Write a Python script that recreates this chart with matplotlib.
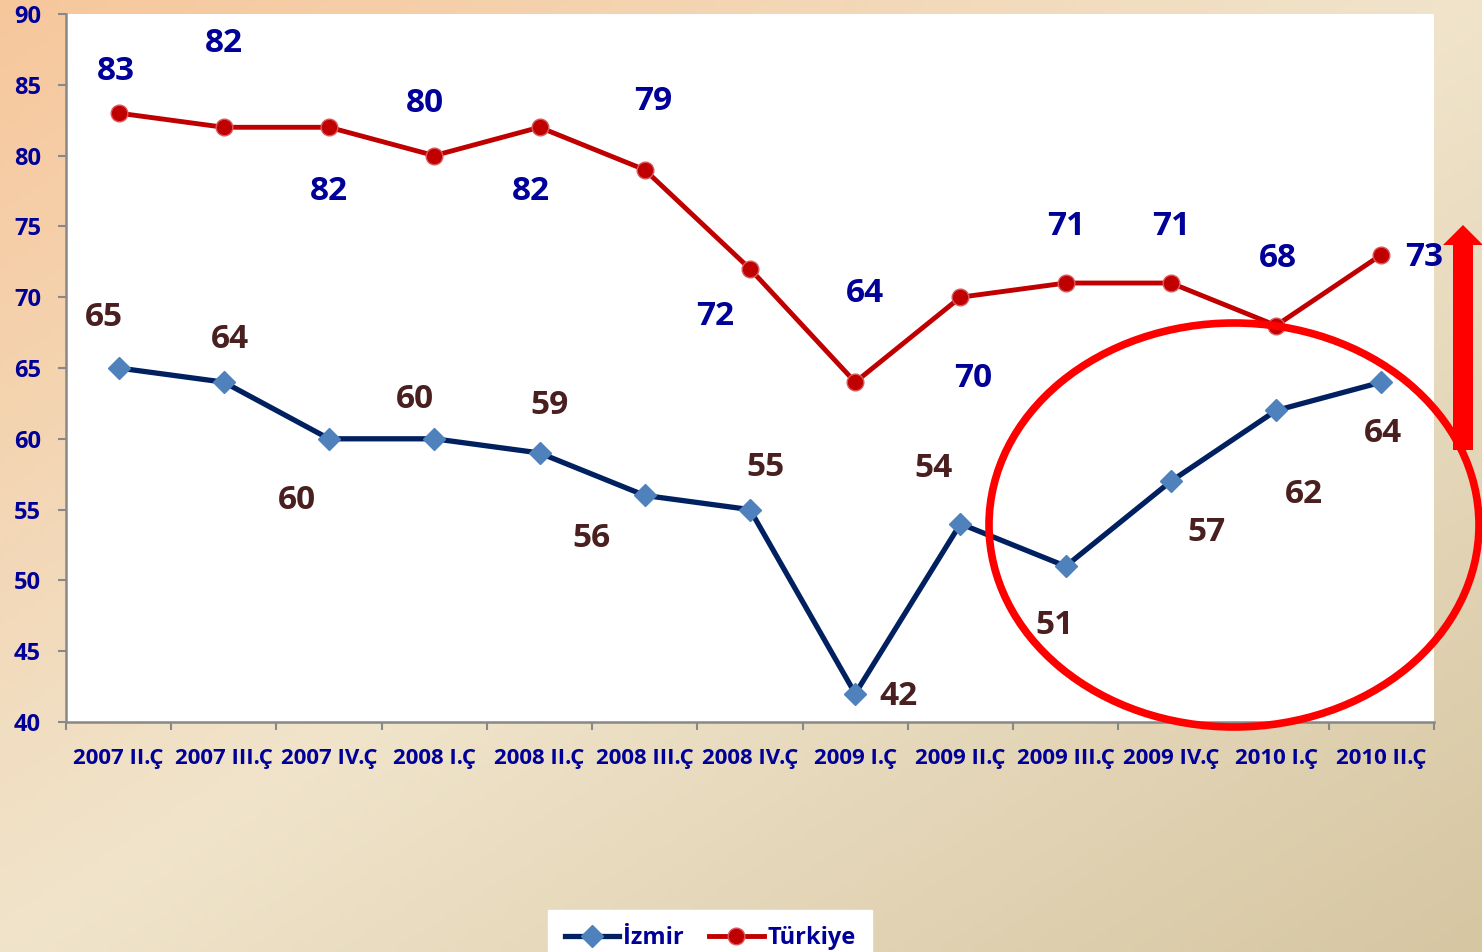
import numpy as np
import matplotlib.pyplot as plt
from matplotlib.colors import LinearSegmentedColormap
from matplotlib.patches import Ellipse, Polygon

plt.rcParams['font.family'] = ['Open Sans', 'DejaVu Sans']
plt.rcParams['font.weight'] = 'bold'

# veriler
donemler = ['2007 II.Ç', '2007 III.Ç', '2007 IV.Ç', '2008 I.Ç', '2008 II.Ç', '2008 III.Ç',
            '2008 IV.Ç', '2009 I.Ç', '2009 II.Ç', '2009 III.Ç', '2009 IV.Ç', '2010 I.Ç', '2010 II.Ç']
izmir = [65, 64, 60, 60, 59, 56, 55, 42, 54, 51, 57, 62, 64]
turkiye = [83, 82, 82, 80, 82, 79, 72, 64, 70, 71, 71, 68, 73]

# etiket kaydirmalari (piksel)
izmir_off = [(-15, 51), (6, 43), (-32, -62), (-19, 39), (10, 47), (-53, -43), (15, 42),
             (43, -3), (-27, 55), (-11, -59), (36, -51), (28, -84), (2, -51)]
turkiye_off = [(-3, 42), (0, 84), (0, -64), (-9, 52), (-9, -64), (8, 68), (-35, -48),
               (10, 89), (13, -81), (0, 57), (0, 57), (2, 67), (43, -3)]

W, H = 1482, 952
fig = plt.figure(figsize=(W / 100, H / 100), dpi=100)

# arka plan gecisi
bg = fig.add_axes([0, 0, 1, 1], zorder=-10)
xx, yy = np.meshgrid(np.linspace(0, 1, 300), np.linspace(0, 1, 200))
t = (xx + yy) / 2
cmap = LinearSegmentedColormap.from_list('bg', [(0, '#f7c79c'), (0.5, '#f0e4cb'), (1, '#d6c6a2')])
bg.imshow(t, cmap=cmap, aspect='auto', extent=[0, 1, 0, 1], origin='upper')
bg.axis('off')

ax = fig.add_axes([66 / W, 1 - 722 / H, (1434 - 66) / W, (722 - 14) / H])
ax.set_facecolor('white')
x = np.arange(len(donemler))

ax.plot(x, izmir, color='#002060', lw=3.8, marker='D', ms=11, mfc='#4f81bd', mec='#4f81bd',
        label='İzmir', zorder=3)
ax.plot(x, turkiye, color='#c00000', lw=3.5, marker='o', ms=12, mfc='#c00000', mec='#d9595e',
        mew=1, label='Türkiye', zorder=3)

for i in range(len(x)):
    ax.annotate(str(izmir[i]), (x[i], izmir[i]), xytext=izmir_off[i], textcoords='offset pixels',
                ha='center', va='center', fontsize=24, fontweight='bold', color='#4a1f1f')
    ax.annotate(str(turkiye[i]), (x[i], turkiye[i]), xytext=turkiye_off[i], textcoords='offset pixels',
                ha='center', va='center', fontsize=24, fontweight='bold', color='#000099')

ax.set_xlim(-0.5, len(x) - 0.5)
ax.set_ylim(40, 90)
ax.set_yticks(np.arange(40, 91, 5))
ax.set_xticks(np.arange(-0.5, len(x)), [''] * (len(x) + 1))
ax.set_xticks(x, donemler, minor=True)
ax.tick_params(axis='x', which='major', length=6, width=1.5, color='#888888', direction='out')
ax.tick_params(axis='x', which='minor', length=0, pad=19, labelsize=16, labelcolor='#000099')
ax.tick_params(axis='y', length=6, width=1.5, color='#888888', pad=12, labelsize=17,
               labelcolor='#000099')
for s in ['top', 'right']:
    ax.spines[s].set_visible(False)
for s in ['left', 'bottom']:
    ax.spines[s].set_color('#888888')
    ax.spines[s].set_linewidth(1.8)

# daire ve ok
ell = Ellipse((1234 / W, 1 - 525 / H), 490 / W, 404 / H, transform=fig.transFigure,
              fill=False, ec='#ff0000', lw=5.5, zorder=5)
fig.add_artist(ell)
ok = [(1453, 450), (1473, 450), (1473, 245), (1483, 245), (1463, 225), (1443, 245), (1453, 245)]
fig.add_artist(Polygon([(px / W, 1 - py / H) for px, py in ok], closed=True,
                       transform=fig.transFigure, fc='#ff0000', ec='none', zorder=5))

leg = fig.legend(loc='lower center', bbox_to_anchor=(710 / W, -0.028), ncol=2, frameon=True,
                 fancybox=False, edgecolor='white', framealpha=1, fontsize=17,
                 handlelength=2.3, columnspacing=1.1, handletextpad=0.15, borderpad=0.7)
for txt in leg.get_texts():
    txt.set_color('#000099')

fig.savefig('out.png', dpi=100)
